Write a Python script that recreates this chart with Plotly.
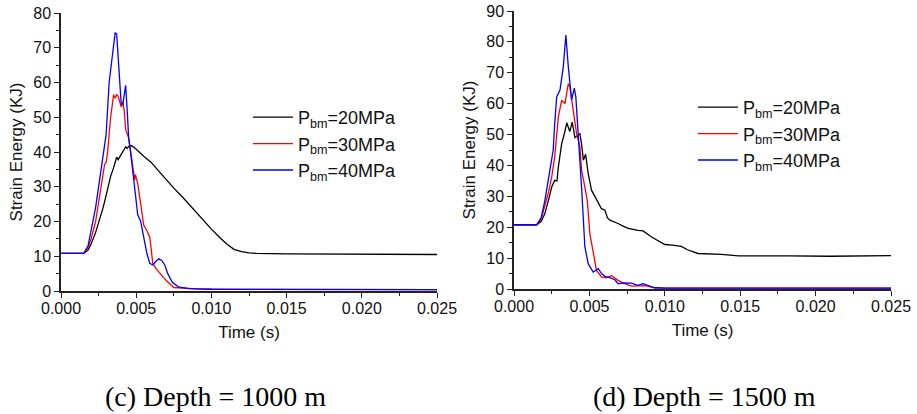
import numpy as np
import plotly.graph_objects as go

# ---------------- data (time in ms, strain energy in kJ) ----------------
# (c) Depth = 1000 m
c_t_20 = [0, 1.5, 1.8, 2.0, 2.3, 2.5, 2.8, 3.0, 3.3, 3.5, 3.7, 3.8, 3.9, 4.1, 4.3, 4.4, 4.5, 4.7, 5.0,
          5.5, 6.0, 6.5, 7.0, 7.5, 8.0, 8.5, 9.0, 9.5, 10.0, 10.5, 11.0, 11.5, 12.0, 12.5, 13.0, 15.0, 20.0, 25.0]
c_e_20 = [10.8, 10.8, 11.8, 13.5, 16.8, 19.5, 24.0, 27.5, 33.0, 35.5, 38.5, 37.8, 38.6, 40.0, 41.5, 41.0, 41.6, 41.8, 40.8,
          38.8, 37.0, 34.5, 32.0, 29.6, 27.4, 25.0, 22.5, 20.0, 17.8, 15.6, 13.6, 12.0, 11.3, 11.0, 10.8, 10.7, 10.5, 10.5]

c_t_30 = [0, 1.5, 1.8, 2.0, 2.3, 2.6, 2.8, 2.9, 3.0, 3.1, 3.3, 3.5, 3.6, 3.7, 3.8, 3.9, 4.0, 4.1, 4.2, 4.3,
          4.4, 4.5, 4.7, 4.9, 4.95, 5.0, 5.1, 5.3, 5.5, 5.7, 5.9, 6.0, 6.1, 6.3, 6.6, 7.0, 7.5, 8.0, 9.0, 10.0, 25.0]
c_e_30 = [10.8, 10.8, 12.5, 15.0, 20.0, 28.0, 34.0, 36.5, 37.0, 40.0, 50.0, 56.5, 55.5, 56.5, 56.0, 54.0, 53.0, 54.5, 52.0, 46.5,
          45.5, 44.0, 38.0, 32.0, 33.5, 32.5, 31.0, 25.0, 19.0, 17.5, 15.5, 12.0, 8.0, 6.5, 5.0, 3.0, 1.0, 0.8, 0.6, 0.5, 0.4]

c_t_40 = [0, 1.5, 1.8, 2.0, 2.3, 2.6, 2.8, 3.0, 3.2, 3.4, 3.5, 3.6, 3.7, 3.8, 3.9, 4.0, 4.1, 4.2, 4.3, 4.4,
          4.5, 4.6, 4.8, 5.0, 5.1, 5.3, 5.5, 5.7, 5.9, 6.1, 6.3, 6.5, 6.7, 6.9, 7.1, 7.4, 7.8, 8.5, 10.0, 25.0]
c_e_40 = [10.8, 10.8, 13.0, 17.0, 24.0, 33.0, 38.5, 45.0, 60.0, 68.0, 72.0, 74.3, 74.0, 68.0, 60.0, 54.0, 53.5, 57.0, 59.2, 52.0,
          44.0, 41.0, 33.0, 27.0, 22.0, 20.0, 15.0, 11.0, 8.0, 7.5, 8.5, 9.3, 8.8, 7.5, 5.0, 2.5, 1.2, 0.7, 0.5, 0.4]

# (d) Depth = 1500 m
d_t_20 = [0, 1.5, 1.8, 2.05, 2.3, 2.5, 2.7, 2.85, 2.94, 3.16, 3.35, 3.5, 3.7, 3.86, 4.04, 4.2, 4.37, 4.48, 4.6, 4.75,
          4.92, 5.14, 5.35, 5.59, 5.8, 6.03, 6.2, 6.36, 6.69, 6.9, 7.13, 7.57, 8.23, 8.56, 9.1, 9.5, 10.0, 10.5, 11.1,
          11.5, 12.2, 13.75, 14.9, 18.2, 21.0, 25.0]
d_e_20 = [20.8, 20.8, 21.8, 24.4, 29.0, 33.0, 35.2, 35.0, 39.5, 47.0, 50.5, 53.8, 51.0, 54.0, 49.0, 49.5, 50.3, 47.0, 41.7, 43.6,
          37.4, 32.0, 30.0, 27.7, 26.0, 25.5, 23.0, 22.3, 21.7, 21.2, 20.6, 19.6, 19.0, 18.8, 16.9, 15.8, 14.4, 14.2, 13.8,
          12.7, 11.5, 11.2, 10.7, 10.7, 10.6, 10.8]

d_t_30 = [0, 1.5, 1.8, 2.05, 2.3, 2.5, 2.7, 2.94, 3.16, 3.38, 3.6, 3.7, 3.93, 4.15, 4.37, 4.48, 4.7, 4.86,
          5.03, 5.25, 5.47, 5.8, 6.1, 6.47, 6.9, 7.3, 7.8, 8.3, 8.7, 9.3, 10.0, 25.0]
d_e_30 = [20.8, 20.8, 22.5, 26.6, 31.5, 36.3, 42.8, 55.7, 61.1, 60.0, 66.5, 65.5, 57.9, 50.3, 46.0, 38.5, 33.0, 28.7,
          17.9, 11.4, 6.0, 3.9, 3.6, 4.3, 2.8, 1.8, 0.9, 1.0, 1.1, 0.4, 0.3, 0.3]

d_t_40 = [0, 1.5, 1.8, 2.05, 2.38, 2.6, 2.7, 2.83, 3.05, 3.27, 3.44, 3.6, 3.82, 4.0, 4.1, 4.26, 4.48, 4.7,
          4.92, 5.25, 5.59, 5.8, 6.03, 6.4, 6.69, 6.9, 7.3, 7.8, 8.2, 8.56, 9.34, 10.0, 25.0]
d_e_40 = [20.8, 20.8, 23.0, 28.7, 38.5, 45.0, 53.6, 62.2, 64.4, 72.0, 82.2, 72.0, 61.2, 65.0, 62.2, 50.3, 33.0, 13.6,
          8.2, 5.5, 6.6, 5.0, 4.1, 3.6, 3.0, 1.7, 2.0, 1.9, 1.2, 1.7, 0.4, 0.3, 0.3]

series_names = ["P<sub>bm</sub>=20MPa", "P<sub>bm</sub>=30MPa", "P<sub>bm</sub>=40MPa"]
series_colors = ["#000000", "#ff0000", "#0000ff"]
captions = ["(c) Depth = 1000 m", "(d) Depth = 1500 m"]
x_ticks = [0.0, 0.005, 0.010, 0.015, 0.020, 0.025]

# ---------------- figure ----------------
W, H = 917, 414
ML, MR, MT, MB = 61, 26, 11, 123
PW, PH = W - ML - MR, H - MT - MB
fig = go.Figure()

panels = [
    ([c_t_20, c_t_30, c_t_40], [c_e_20, c_e_30, c_e_40], "x", "y", "legend"),
    ([d_t_20, d_t_30, d_t_40], [d_e_20, d_e_30, d_e_40], "x2", "y2", "legend2"),
]
for ts, es, xa, ya, lg in panels:
    for t, e, name, col in zip(ts, es, series_names, series_colors):
        fig.add_trace(go.Scatter(
            x=np.array(t) / 1000.0, y=e, mode="lines", name=name,
            line=dict(color=col, width=1.3), xaxis=xa, yaxis=ya, legend=lg,
        ))

FONT = "Liberation Sans, Arial, sans-serif"
axis_common = dict(
    showline=True, linecolor="#222222", linewidth=1.5, mirror=False,
    ticks="outside", ticklen=5, tickwidth=1.3, tickcolor="#222222",
    showgrid=False, zeroline=False,
    tickfont=dict(family=FONT, size=16, color="#111111"),
)
minor = dict(ticks="outside", ticklen=3, tickwidth=1.1, tickcolor="#222222", showgrid=False)


def xd(a, b):
    return [(a - ML) / PW, (b - ML) / PW]


def yd(top, bottom):
    return [(H - MB - bottom) / PH, (H - MB - top) / PH]


xtitle = dict(text="Time (s)", font=dict(family=FONT, size=17), standoff=10)
ytitle = dict(text="Strain Energy (KJ)", font=dict(family=FONT, size=17), standoff=6)

fig.update_layout(
    width=W, height=H, margin=dict(l=ML, r=MR, t=MT, b=MB, autoexpand=False),
    paper_bgcolor="white", plot_bgcolor="white",
    font=dict(family=FONT, color="#111111"),
    xaxis=dict(domain=xd(61, 437), anchor="y", range=[0, 0.025], tickvals=x_ticks,
               tickformat=".3f", minor=dict(dtick=0.0025, **minor), ticklabelstandoff=-3,
               automargin=True, title=xtitle, **axis_common),
    yaxis=dict(domain=yd(13, 291), anchor="x", range=[0, 80], dtick=10,
               minor=dict(dtick=5, **minor), automargin=False, title=ytitle, **axis_common),
    xaxis2=dict(domain=xd(514, 891), anchor="y2", range=[0, 0.025], tickvals=x_ticks,
                tickformat=".3f", minor=dict(dtick=0.0025, **minor), ticklabelstandoff=-3,
                automargin=True, title=xtitle, **axis_common),
    yaxis2=dict(domain=yd(11, 289), anchor="x2", range=[0, 90], dtick=10,
                minor=dict(dtick=5, **minor), automargin=False, title=ytitle, **axis_common),
    legend=dict(x=(248 - ML) / PW, y=(H - MB - 99) / PH, xanchor="left", yanchor="top", bgcolor="rgba(0,0,0,0)",
                font=dict(family=FONT, size=18, color="#111111"), itemwidth=40, tracegroupgap=0),
    legend2=dict(x=(693 - ML) / PW, y=(H - MB - 89) / PH, xanchor="left", yanchor="top", bgcolor="rgba(0,0,0,0)",
                 font=dict(family=FONT, size=18, color="#111111"), itemwidth=40, tracegroupgap=0),
    showlegend=True,
)

for cap, xc in zip(captions, [215 / W, 704 / W]):
    fig.add_annotation(text=cap, xref="paper", yref="paper", x=(xc * W - ML) / PW, y=(H - MB - 396) / PH,
                       xanchor="center", yanchor="middle", showarrow=False,
                       font=dict(family="Liberation Serif, Times New Roman, serif", size=28, color="#000000"))

fig.write_html("out.html")
